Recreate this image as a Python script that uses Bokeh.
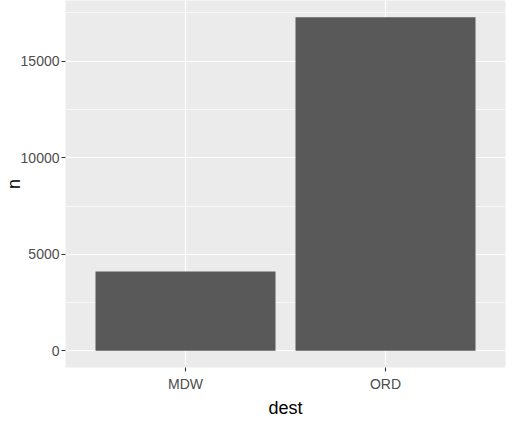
from bokeh.plotting import figure
from bokeh.models import FactorRange, Range1d, FixedTicker, ColumnDataSource
from bokeh.embed import file_html
from bokeh.resources import INLINE

dest = ["MDW", "ORD"]
n = [4113, 17283]
y_ticks = [0, 5000, 10000, 15000]
y_minor = [2500, 7500, 12500, 17500]

src = ColumnDataSource(data=dict(dest=dest, n=n))

ymax = max(n) * 1.05
ymin = -max(n) * 0.05

p = figure(width=511, height=420, output_backend="svg", toolbar_location=None,
           x_range=FactorRange(factors=dest, range_padding=0.1, range_padding_units="absolute"),
           y_range=Range1d(ymin, ymax),
           min_border_left=65, min_border_right=6, min_border_top=0, min_border_bottom=48)

p.vbar(x="dest", top="n", width=0.9, source=src, fill_color="#595959", line_color=None)

p.background_fill_color = "#EBEBEB"
p.border_fill_color = "white"
p.outline_line_color = None

p.yaxis.ticker = FixedTicker(ticks=y_ticks, minor_ticks=y_minor)
p.ygrid.grid_line_color = "white"
p.ygrid.grid_line_width = 1.2
p.ygrid.minor_grid_line_color = "white"
p.ygrid.minor_grid_line_width = 0.6
p.xgrid.grid_line_color = "white"
p.xgrid.grid_line_width = 1.2

for ax in (p.xaxis, p.yaxis):
    ax.axis_line_color = None
    ax.major_tick_line_color = "#333333"
    ax.major_tick_line_width = 1.1
    ax.major_tick_in = 0
    ax.major_tick_out = 4
    ax.minor_tick_line_color = None
    ax.major_label_text_font = "Liberation Sans"
    ax.major_label_text_font_size = "14px"
    ax.major_label_text_color = "#4D4D4D"
    ax.axis_label_text_font = "Liberation Sans"
    ax.axis_label_text_font_size = "18px"
    ax.axis_label_text_font_style = "normal"
    ax.axis_label_text_color = "black"

p.xaxis.axis_label = "dest"
p.yaxis.axis_label = "n"
p.xaxis.major_label_standoff = 4
p.yaxis.major_label_standoff = 2
p.xaxis.axis_label_standoff = 3
p.yaxis.axis_label_standoff = -6

open("out.html", "w").write(file_html(p, INLINE))
